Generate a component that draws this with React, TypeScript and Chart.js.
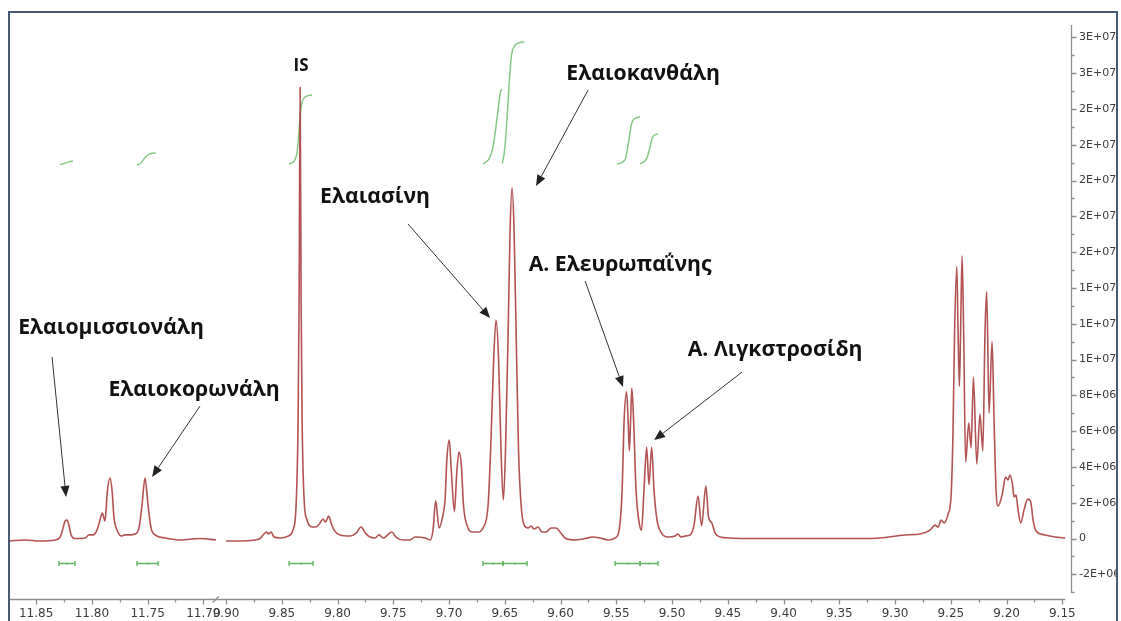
import React, { useEffect, useRef } from "react";
import { Chart, registerables } from "chart.js";

Chart.register(...registerables);

// ---------- broken x axis (ppm) ----------
const LEFT_FROM = 11.88;
const LEFT_TO = 11.7;
const RIGHT_FROM = 9.9;
const BREAK_GAP = 0.0204;
const X_MIN_U = 0.0057;
const X_MAX_U = 0.9582;

const toU = (ppm: number) =>
  ppm > 10.8 ? LEFT_FROM - ppm : LEFT_FROM - LEFT_TO + BREAK_GAP + (RIGHT_FROM - ppm);
const fromU = (u: number) =>
  u < 0.19 ? LEFT_FROM - u : RIGHT_FROM - (u - (LEFT_FROM - LEFT_TO) - BREAK_GAP);

const xTickPpm = [11.85, 11.8, 11.75, 11.7, 9.9, 9.85, 9.8, 9.75, 9.7, 9.65, 9.6, 9.55, 9.5, 9.45, 9.4, 9.35, 9.3, 9.25, 9.2, 9.15];
const xMinorPpm = [11.825, 11.775, 11.725, 9.875, 9.825, 9.775, 9.725, 9.675, 9.625, 9.575, 9.525, 9.475, 9.425, 9.375, 9.325, 9.275, 9.225, 9.175];

// y values are in units of 1E+06
const yTicks = [-2, 0, 2, 4, 6, 8, 10, 12, 14, 16, 18, 20, 22, 24, 26, 28];
const yMinor = [-3, -1, 1, 3, 5, 7, 9, 11, 13, 15, 17, 19, 21, 23, 25, 27];
const Y_MIN = -3.38;
const Y_MAX = 28.69;
const Y_AXIS_END = -3.05;

// ---------- spectrum: left segment (11.87 – 11.69 ppm) ----------
const leftPpm = [11.8734, 11.86, 11.8465, 11.833, 11.8285, 11.8258, 11.824, 11.8222, 11.8204, 11.8186, 11.815, 11.8061, 11.8025, 11.799, 11.7954, 11.7927, 11.7906, 11.7882, 11.786, 11.7837, 11.7819, 11.7801, 11.7774, 11.7738, 11.7702, 11.7657, 11.7612, 11.7577, 11.755, 11.7523, 11.7496, 11.7469, 11.7433, 11.7343, 11.7209, 11.703, 11.6886];
const leftIntensity = [-0.14, -0.08, -0.14, -0.08, 0.08, 0.59, 0.98, 1.03, 0.7, 0.2, 0.0, 0.03, 0.2, 0.2, 0.47, 1.03, 1.42, 0.98, 2.7, 3.38, 2.7, 1.15, 0.47, 0.14, 0.2, 0.2, 0.25, 0.59, 1.87, 3.38, 1.87, 0.59, 0.2, 0.03, -0.08, 0.0, -0.08];

// ---------- spectrum: right segment (9.90 – 9.15 ppm) ----------
const rightPpm = [
  9.9, 9.887, 9.874, 9.8695, 9.866, 9.8637, 9.862, 9.8596, 9.857, 9.8516, 9.844, 9.84, 9.8372, 9.8354, 9.8345, 9.8336, 9.8327, 9.8318, 9.83, 9.8274,
  9.823, 9.8193, 9.8157, 9.813, 9.8108, 9.808, 9.8058, 9.8031, 9.7978, 9.7888, 9.7834, 9.779, 9.775, 9.771, 9.7664, 9.7628, 9.759, 9.7514, 9.7476, 9.741,
  9.735, 9.7305, 9.7215, 9.717, 9.7144, 9.712, 9.709, 9.7055, 9.7036, 9.702, 9.6998, 9.698, 9.6952, 9.693, 9.6911, 9.689, 9.6871, 9.684, 9.6794, 9.674,
  9.6696, 9.665, 9.6624, 9.66, 9.6579, 9.6556, 9.6534, 9.6513, 9.6494, 9.647, 9.6453, 9.6435, 9.6417, 9.6399, 9.6377, 9.6354, 9.6327, 9.6291, 9.6265, 9.6238,
  9.6202, 9.6166, 9.613, 9.6085, 9.604, 9.6004, 9.596, 9.587, 9.578, 9.5717, 9.5646, 9.5574, 9.5511, 9.5475, 9.5448, 9.543, 9.5408, 9.5394, 9.5383, 9.5372,
  9.5361, 9.5345, 9.5323, 9.5296, 9.5274, 9.5252, 9.5228, 9.5207, 9.5183, 9.5162, 9.5135, 9.51, 9.5036, 9.4973, 9.495, 9.4919, 9.4883, 9.4838, 9.4803, 9.4767,
  9.4735, 9.4697, 9.4673, 9.4644, 9.4614, 9.457, 9.439, 9.4031, 9.3673, 9.3314, 9.3135, 9.291, 9.2776, 9.2686, 9.2641, 9.2614, 9.2587, 9.256, 9.2524, 9.2497,
  9.248, 9.2466, 9.2446, 9.2435, 9.2423, 9.2412, 9.2399, 9.2385, 9.2367, 9.2339, 9.2318, 9.2297, 9.2267, 9.2238, 9.2213, 9.2193, 9.2178, 9.2157, 9.213, 9.2112,
  9.2094, 9.2076, 9.204, 9.2009, 9.1987, 9.1969, 9.1946, 9.1933, 9.1915, 9.1897, 9.1873, 9.1843, 9.181, 9.1783, 9.1762, 9.1735, 9.1655, 9.1565, 9.1475,
];
const rightIntensity = [
  -0.14, -0.14, -0.08, 0.0, 0.25, 0.36, 0.25, 0.36, 0.08, 0.03, 0.14, 0.47, 1.87, 6.6, 13.3, 25.2, 13.3, 6.6, 2.15, 1.03,
  0.64, 0.64, 0.87, 1.09, 0.92, 1.26, 0.87, 0.47, 0.2, 0.14, 0.3, 0.64, 0.3, 0.08, 0.03, 0.2, 0.03, 0.36, 0.08, -0.08,
  -0.08, 0.08, 0.03, -0.08, 0.47, 2.1, 0.59, 1.31, 2.15, 4.4, 5.5, 3.8, 1.5, 3.8, 4.83, 4.1, 1.87, 0.75, 0.36, 0.36,
  0.59, 1.87, 5.5, 10.0, 12.2, 10.0, 4.9, 2.15, 4.9, 11.6, 17.2, 19.6, 17.2, 11.6, 4.9, 1.87, 0.75, 0.59, 0.7, 0.53,
  0.64, 0.36, 0.36, 0.59, 0.59, 0.36, 0.03, -0.08, 0.0, 0.08, 0.03, -0.08, 0.03, 0.47, 2.7, 6.6, 8.2, 6.6, 4.9, 6.6,
  8.4, 6.6, 2.7, 0.92, 0.47, 2.7, 5.1, 3.0, 5.1, 2.7, 1.03, 0.36, 0.08, 0.14, 0.25, 0.08, 0.14, 0.2, 0.75, 2.37,
  0.7, 2.93, 1.2, 0.87, 0.3, 0.08, 0.0, 0.0, 0.0, 0.0, 0.03, 0.2, 0.25, 0.47, 0.75, 0.64, 1.03, 0.87, 1.37, 2.43,
  6.06, 11.6, 15.2, 11.6, 8.5, 11.6, 15.8, 11.6, 4.27, 6.45, 5.06, 9.02, 4.16, 6.96, 4.89, 11.6, 13.8, 7.0, 11.0, 6.6,
  2.7, 1.82, 2.43, 3.44, 3.27, 3.55, 3.0, 2.32, 2.43, 1.6, 0.87, 1.6, 2.2, 2.04, 1.03, 0.42, 0.2, 0.08, 0.03,
];

// ---------- integral curves (green) ----------
const integral1Ppm = [11.8285, 11.825, 11.8213, 11.8168];
const integral1Val = [20.89, 20.95, 21.03, 21.09];
const integral2Ppm = [11.7595, 11.7559, 11.7532, 11.7505, 11.7469, 11.7424];
const integral2Val = [20.87, 20.98, 21.2, 21.4, 21.51, 21.54];
const integralISPpm = [9.8435, 9.839, 9.8363, 9.8345, 9.8332, 9.8318, 9.8291, 9.8229];
const integralISVal = [20.92, 21.09, 21.59, 22.82, 23.83, 24.39, 24.67, 24.78];
const integralAPpm = [9.6696, 9.6637, 9.6606, 9.6564, 9.654, 9.6526];
const integralAVal = [20.92, 21.26, 21.87, 23.77, 24.94, 25.1];
const integralBPpm = [9.6522, 9.6502, 9.6487, 9.6463, 9.6442, 9.6413, 9.6368, 9.6323];
const integralBVal = [20.96, 21.7, 22.82, 25.22, 26.9, 27.51, 27.7, 27.75];
const integralCPpm = [9.5496, 9.5422, 9.5392, 9.5362, 9.5332, 9.5287];
const integralCVal = [20.92, 21.15, 22.08, 23.2, 23.47, 23.56];
const integralDPpm = [9.5287, 9.5227, 9.5197, 9.5173, 9.5128];
const integralDVal = [20.92, 21.24, 21.89, 22.45, 22.6];

// ---------- integration regions (bars under baseline) ----------
const regionStartPpm = [11.8294, 11.7595, 9.8435, 9.6695, 9.6516, 9.5511, 9.5287];
const regionEndPpm = [11.8151, 11.7406, 9.822, 9.6516, 9.63, 9.5287, 9.5126];
const REGION_LEVEL = -1.37;

// ---------- annotations ----------
const labelTexts = ["IS", "Ελαιομισσιονάλη", "Ελαιοκορωνάλη", "Ελαιασίνη", "Ελαιοκανθάλη", "Α. Ελευρωπαΐνης", "Α. Λιγκστροσίδη"];
const labelPpm = [9.8327, 11.7828, 11.7083, 9.7664, 9.526, 9.5466, 9.4076];
const labelBaseline = [26.12, 11.42, 7.96, 18.74, 25.61, 14.94, 10.2];
const arrowTailPpm = [11.8357, 11.703, 9.7368, 9.5753, 9.578, 9.4372];
const arrowTailVal = [10.14, 7.4, 17.57, 25.06, 14.39, 9.3];
const arrowHeadPpm = [11.8231, 11.746, 9.6632, 9.622, 9.544, 9.5161];
const arrowHeadVal = [2.32, 3.44, 12.32, 19.69, 8.46, 5.5];

const SPEC_COLOR = "rgba(168,58,58,0.88)";
const INT_COLOR = "#86c986";
const BAR_COLOR = "#5fb55f";
const AXIS_COLOR = "#8e8e8e";
const TICK_TEXT = "#3c3c3c";
const LABEL_FONT = '"Open Sans", "Noto Sans", sans-serif';
const LABEL_TOTAL_WIDTH = 977;

const pts = (ppm: number[], val: number[]) => ppm.map((p, i) => ({ x: toU(p), y: val[i] }));

const fmtY = (v: number) => {
  if (Math.abs(v) < 1e-9) return "0";
  const s = (v * 1e6).toExponential(0).toUpperCase();
  return s.replace(/E([+-])(\d)$/, "E$10$2");
};

const decorPlugin = {
  id: "decor",
  afterDraw(chart: any) {
    const { ctx, chartArea, scales } = chart;
    const xs = scales.x;
    const ys = scales.y;
    const px = (ppm: number) => xs.getPixelForValue(toU(ppm));
    const py = (v: number) => ys.getPixelForValue(v);
    ctx.save();

    // x axis
    const yb = Math.round(chartArea.bottom) + 0.5;
    ctx.strokeStyle = AXIS_COLOR;
    ctx.lineWidth = 1.3;
    ctx.beginPath();
    ctx.moveTo(chartArea.left, yb);
    ctx.lineTo(px(9.15) + 3, yb);
    xTickPpm.forEach((p) => {
      const x = Math.round(px(p)) + 0.5;
      ctx.moveTo(x, yb);
      ctx.lineTo(x, yb + 5);
    });
    xMinorPpm.forEach((p) => {
      const x = Math.round(px(p)) + 0.5;
      ctx.moveTo(x, yb);
      ctx.lineTo(x, yb + 3);
    });
    ctx.stroke();
    // break mark
    const xBreak = (px(LEFT_TO) + px(RIGHT_FROM)) / 2 + 1;
    ctx.beginPath();
    ctx.moveTo(xBreak - 3, yb + 3);
    ctx.lineTo(xBreak + 3, yb - 3);
    ctx.stroke();

    // y axis
    const xr = Math.round(chartArea.right) + 0.5;
    ctx.beginPath();
    ctx.moveTo(xr, chartArea.top);
    ctx.lineTo(xr, py(Y_AXIS_END));
    yTicks.forEach((v) => {
      const y = Math.round(py(v)) + 0.5;
      ctx.moveTo(xr, y);
      ctx.lineTo(xr + 5, y);
    });
    yMinor.forEach((v) => {
      const y = Math.round(py(v)) + 0.5;
      ctx.moveTo(xr, y);
      ctx.lineTo(xr + 3, y);
    });
    ctx.stroke();

    // integration regions
    ctx.strokeStyle = BAR_COLOR;
    ctx.fillStyle = BAR_COLOR;
    ctx.lineWidth = 1.4;
    const yr = Math.round(py(REGION_LEVEL)) + 0.5;
    regionStartPpm.forEach((s, i) => {
      const x1 = px(s);
      const x2 = px(regionEndPpm[i]);
      ctx.beginPath();
      ctx.moveTo(x1, yr);
      ctx.lineTo(x2, yr);
      ctx.moveTo(x1, yr - 2.5);
      ctx.lineTo(x1, yr + 2.5);
      ctx.moveTo(x2, yr - 2.5);
      ctx.lineTo(x2, yr + 2.5);
      ctx.stroke();
      ctx.beginPath();
      ctx.arc((x1 + x2) / 2, yr, 1, 0, Math.PI * 2);
      ctx.fill();
    });

    // arrows
    ctx.strokeStyle = "#333";
    ctx.fillStyle = "#222";
    ctx.lineWidth = 1;
    arrowTailPpm.forEach((tp, i) => {
      const x1 = px(tp);
      const y1 = py(arrowTailVal[i]);
      const x2 = px(arrowHeadPpm[i]);
      const y2 = py(arrowHeadVal[i]);
      const a = Math.atan2(y2 - y1, x2 - x1);
      const L = 11;
      const W = 4.5;
      const bx = x2 - L * Math.cos(a);
      const by = y2 - L * Math.sin(a);
      ctx.beginPath();
      ctx.moveTo(x1, y1);
      ctx.lineTo(bx, by);
      ctx.stroke();
      ctx.beginPath();
      ctx.moveTo(x2, y2);
      ctx.lineTo(bx + W * Math.sin(a), by - W * Math.cos(a));
      ctx.lineTo(bx - W * Math.sin(a), by + W * Math.cos(a));
      ctx.closePath();
      ctx.fill();
    });

    // labels
    ctx.font = `bold 20px ${LABEL_FONT}`;
    let measured = 0;
    labelTexts.slice(1).forEach((t) => (measured += ctx.measureText(t).width));
    const size = (20 * LABEL_TOTAL_WIDTH) / measured;
    ctx.fillStyle = "#111";
    ctx.textAlign = "center";
    ctx.textBaseline = "alphabetic";
    labelTexts.forEach((t, i) => {
      ctx.font = i === 0 ? `bold 17px ${LABEL_FONT}` : `bold ${size.toFixed(1)}px ${LABEL_FONT}`;
      ctx.fillText(t, px(labelPpm[i]), py(labelBaseline[i]));
    });

    ctx.restore();
  },
};

export default function App() {
  const ref = useRef<HTMLCanvasElement | null>(null);
  useEffect(() => {
    if (!ref.current) return;
    const specStyle = {
      borderColor: SPEC_COLOR,
      borderWidth: 1.6,
      pointRadius: 0,
      fill: false,
      cubicInterpolationMode: "monotone" as const,
    };
    const intStyle = {
      borderColor: INT_COLOR,
      borderWidth: 1.5,
      pointRadius: 0,
      fill: false,
      cubicInterpolationMode: "monotone" as const,
    };
    const chart = new Chart(ref.current, {
      type: "line",
      data: {
        datasets: [
          { ...specStyle, data: pts(leftPpm, leftIntensity) },
          { ...specStyle, data: pts(rightPpm, rightIntensity) },
          { ...intStyle, data: pts(integral1Ppm, integral1Val) },
          { ...intStyle, data: pts(integral2Ppm, integral2Val) },
          { ...intStyle, data: pts(integralISPpm, integralISVal) },
          { ...intStyle, data: pts(integralAPpm, integralAVal) },
          { ...intStyle, data: pts(integralBPpm, integralBVal) },
          { ...intStyle, data: pts(integralCPpm, integralCVal) },
          { ...intStyle, data: pts(integralDPpm, integralDVal) },
        ],
      },
      options: {
        responsive: false,
        animation: false,
        devicePixelRatio: 1,
        events: [],
        layout: { padding: { left: 9, top: 25, right: 0, bottom: 0 } },
        plugins: { legend: { display: false }, tooltip: { enabled: false } },
        scales: {
          x: {
            type: "linear",
            position: "bottom",
            min: X_MIN_U,
            max: X_MAX_U,
            grid: { display: false },
            border: { display: false },
            ticks: {
              autoSkip: false,
              maxRotation: 0,
              minRotation: 0,
              padding: 0,
              color: TICK_TEXT,
              font: { family: '"DejaVu Sans", sans-serif', size: 12 },
              callback: (v: any) => fromU(Number(v)).toFixed(2),
            },
            afterBuildTicks: (scale: any) => {
              scale.ticks = xTickPpm.map((p) => ({ value: toU(p) }));
            },
            afterFit: (scale: any) => {
              scale.height = 22;
            },
          },
          y: {
            type: "linear",
            position: "right",
            min: Y_MIN,
            max: Y_MAX,
            grid: { display: false },
            border: { display: false },
            ticks: {
              padding: 0,
              color: TICK_TEXT,
              font: { family: '"DejaVu Sans", sans-serif', size: 11 },
              callback: (v: any) => fmtY(Number(v)),
            },
            afterBuildTicks: (scale: any) => {
              scale.ticks = yTicks.map((v) => ({ value: v }));
            },
            afterFit: (scale: any) => {
              scale.width = 46;
            },
          },
        },
      },
      plugins: [decorPlugin],
    });
    return () => chart.destroy();
  }, []);

  return (
    <div style={{ position: "fixed", left: 0, top: 0, width: 1121, height: 621, background: "#fff", overflow: "hidden" }}>
      <canvas ref={ref} width={1117} height={621} style={{ position: "absolute", left: 0, top: 0, width: 1117, height: 621 }} />
      <div
        style={{
          position: "absolute",
          left: 8,
          top: 11,
          width: 1110,
          height: 640,
          boxSizing: "border-box",
          border: "2px solid #485a74",
          pointerEvents: "none",
        }}
      />
    </div>
  );
}
